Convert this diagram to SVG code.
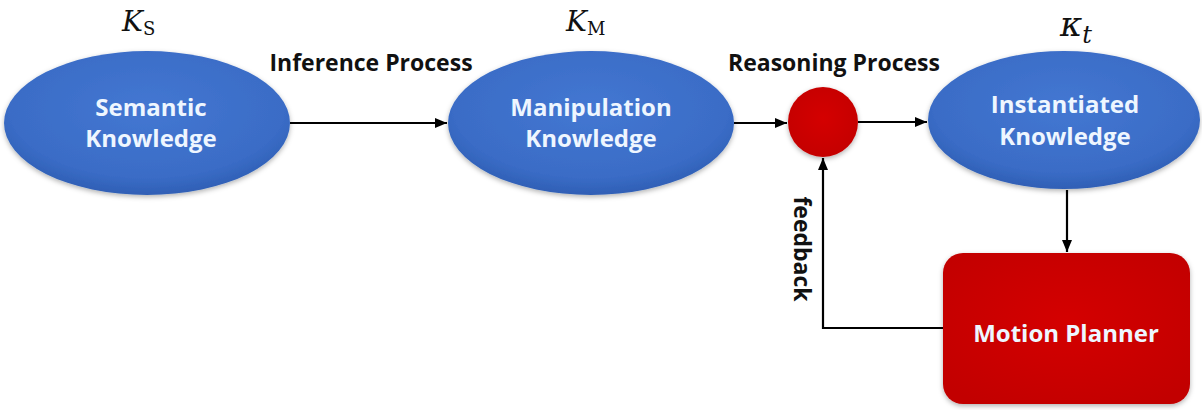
<svg xmlns="http://www.w3.org/2000/svg" width="1202" height="410" viewBox="0 0 1202 410">
  <style>
    .node-label { font-family: "Open Sans", "Liberation Sans", sans-serif; font-weight: 700; font-size: 24px; fill: #eef6ff; text-anchor: middle; }
    .edge-label { font-family: "Open Sans", "Liberation Sans", sans-serif; font-weight: 700; font-size: 23px; fill: #111; text-anchor: middle; }
    .math { font-family: "DejaVu Serif", "Liberation Serif", serif; fill: #111; }
    .edge { fill: none; stroke: #000; stroke-width: 2.2; }
  </style>
  <defs>
    <radialGradient id="blueFill" cx="50%" cy="40%" r="60%">
      <stop offset="0" stop-color="#4477d2"/>
      <stop offset="0.8" stop-color="#3a6cc6"/>
      <stop offset="1" stop-color="#2f5fb5"/>
    </radialGradient>
    <radialGradient id="redFill" cx="50%" cy="45%" r="65%">
      <stop offset="0" stop-color="#d40606"/>
      <stop offset="1" stop-color="#c20000"/>
    </radialGradient>
    <filter id="soft" x="-10%" y="-10%" width="120%" height="125%">
      <feDropShadow dx="0" dy="2" stdDeviation="2.5" flood-color="#000" flood-opacity="0.3"/>
    </filter>
    <marker id="arrow" viewBox="0 0 12 10" refX="12" refY="5" markerWidth="12" markerHeight="10" markerUnits="userSpaceOnUse" orient="auto">
      <path d="M0,0 L12,5 L0,10 z" fill="#000"/>
    </marker>
  </defs>

  <!-- connectors -->
  <g id="connectors">
    <line class="edge" x1="290" y1="123" x2="447" y2="123" marker-end="url(#arrow)"/>
    <line class="edge" x1="734" y1="123" x2="787" y2="123" marker-end="url(#arrow)"/>
    <line class="edge" x1="858" y1="122" x2="927" y2="122" marker-end="url(#arrow)"/>
    <line class="edge" x1="1067" y1="190" x2="1067" y2="252" marker-end="url(#arrow)"/>
    <polyline class="edge" points="943,328 823,328 823,158" marker-end="url(#arrow)"/>
    <text class="edge-label" x="371" y="71">Inference Process</text>
    <text class="edge-label" x="834" y="71">Reasoning Process</text>
    <text class="edge-label" transform="translate(794,249) rotate(90)">feedback</text>
  </g>

  <!-- semantic knowledge -->
  <g id="semantic">
    <ellipse cx="147" cy="123" rx="143" ry="72" fill="url(#blueFill)" filter="url(#soft)"/>
    <text class="node-label" x="151" y="116">Semantic</text>
    <text class="node-label" x="151" y="147">Knowledge</text>
    <text class="math" x="122" y="31" font-size="28" font-style="italic">K<tspan font-size="18" font-style="normal" dy="4">S</tspan></text>
  </g>

  <!-- manipulation knowledge -->
  <g id="manipulation">
    <ellipse cx="591" cy="123" rx="143" ry="72" fill="url(#blueFill)" filter="url(#soft)"/>
    <text class="node-label" x="591" y="116">Manipulation</text>
    <text class="node-label" x="591" y="147">Knowledge</text>
    <text class="math" x="566" y="31" font-size="28" font-style="italic">K<tspan font-size="18" font-style="normal" dy="4">M</tspan></text>
  </g>

  <!-- reasoning junction -->
  <g id="reasoning">
    <circle cx="823" cy="122" r="35" fill="url(#redFill)" filter="url(#soft)"/>
  </g>

  <!-- instantiated knowledge -->
  <g id="instantiated">
    <ellipse cx="1064" cy="120" rx="136" ry="69" fill="url(#blueFill)" filter="url(#soft)"/>
    <text class="node-label" x="1065" y="113">Instantiated</text>
    <text class="node-label" x="1065" y="145">Knowledge</text>
    <text class="math" x="1060" y="36" font-size="34" font-style="italic">κ<tspan font-size="24" dy="7">t</tspan></text>
  </g>

  <!-- motion planner -->
  <g id="motion-planner">
    <rect x="943" y="253" width="247" height="151" rx="20" ry="20" fill="url(#redFill)" filter="url(#soft)"/>
    <text class="node-label" x="1066" y="342">Motion Planner</text>
  </g>
</svg>
